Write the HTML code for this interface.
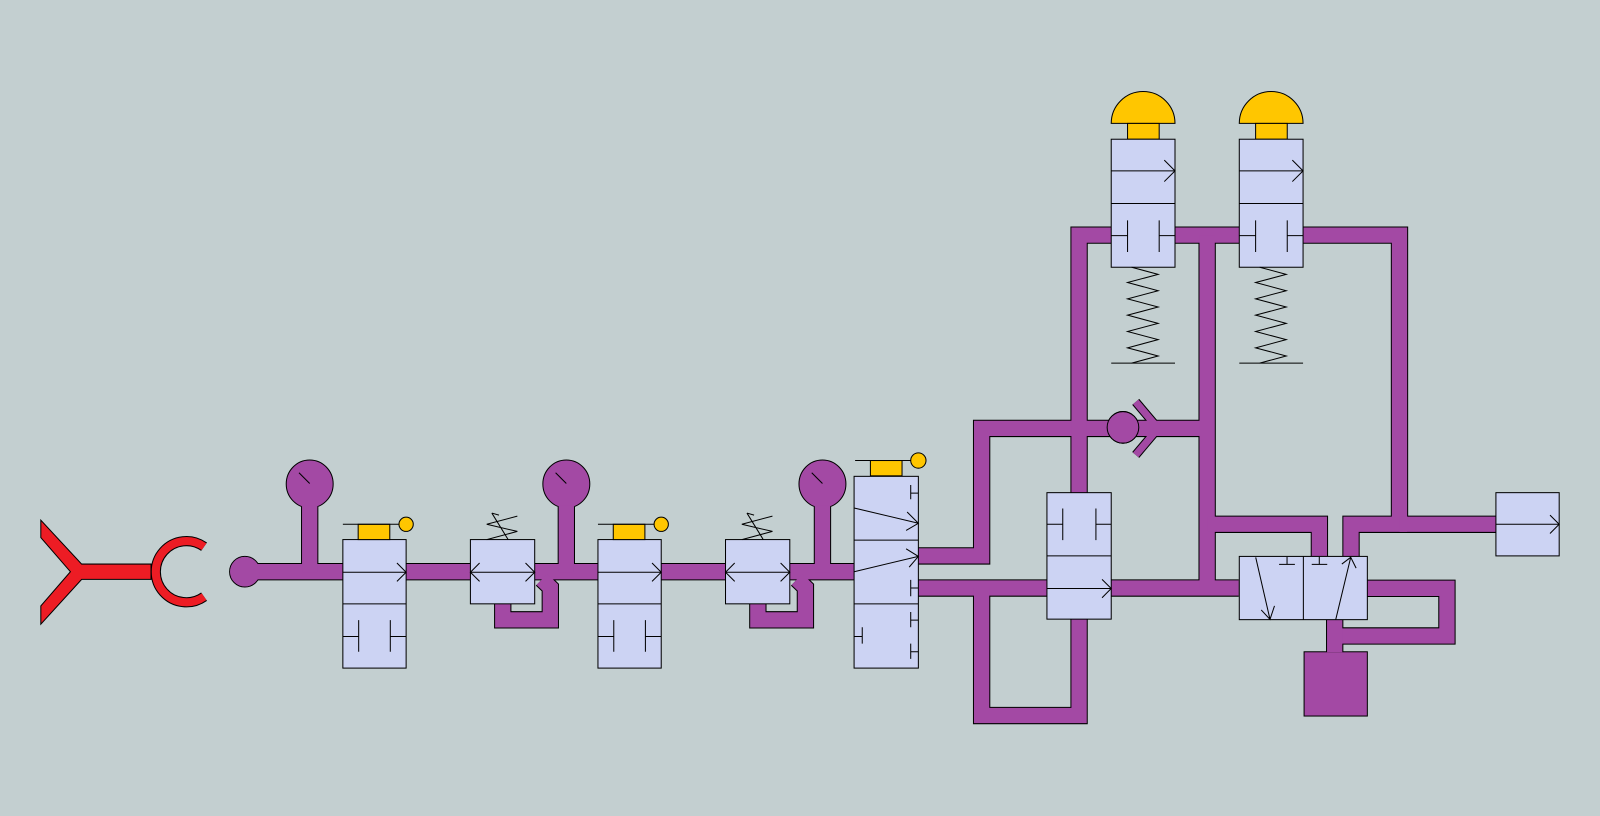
<!DOCTYPE html>
<html><head><meta charset="utf-8"><style>html,body{margin:0;padding:0;background:#c3cfd0}svg{display:block}</style></head>
<body>
<svg width="1600" height="816" viewBox="0 0 1568 800" preserveAspectRatio="none" xmlns="http://www.w3.org/2000/svg">
<rect x="0" y="0" width="1568" height="800" fill="#c3cfd0"/>
<!-- red symbol -->
<polygon points="40,510 40,527 69,560.5 40,594 40,612 80,568 148,568 148,553 80,553" fill="#ed1c24" stroke="#000" stroke-width="1"/>
<path d="M200,536 A30,30 0 1 0 200,585" fill="none" stroke="#000" stroke-width="10"/>
<path d="M200,536 A30,30 0 1 0 200,585" fill="none" stroke="#ed1c24" stroke-width="8"/>

<g id="pipes" fill="none" stroke-linejoin="miter">
<g stroke="#000" stroke-width="17">
<polyline points="240,560.5 837,560.5"/>
<polyline points="303.5,497 303.5,560"/><polyline points="555,497 555,560"/><polyline points="806,497 806,560"/>
<polyline points="492.7,592 492.7,607.7 539.3,607.7 539.3,576 531,568"/>
<polyline points="742.7,592 742.7,607.7 789.3,607.7 789.3,576 781,568"/>
<polyline points="900,545 962,545 962,420 1183,420"/>
<polyline points="900,576.5 1214,576.5"/>
<polyline points="962,576.5 962,701.5 1057.5,701.5 1057.5,607"/>
<polyline points="1057.5,483 1057.5,230.5 1371.5,230.5 1371.5,514 1324,514 1324,546"/>
<polyline points="1371.5,514 1466,514"/>
<polyline points="1183,230.5 1183,576.5"/>
<polyline points="1183,514 1293,514 1293,546"/>
<polyline points="1340,576.8 1418,576.8 1418,623.5 1308,623.5"/>
<polyline points="1308,607 1308,640"/>
<polyline points="1113,394 1135,420 1113,446" stroke-width="9"/>
</g>
<circle cx="240" cy="560.5" r="15" fill="#a349a4" stroke="#000" stroke-width="1"/>
<ellipse cx="303.5" cy="474.5" rx="23" ry="23.5" fill="#a349a4" stroke="#000" stroke-width="1"/>
<ellipse cx="555" cy="474.5" rx="23" ry="23.5" fill="#a349a4" stroke="#000" stroke-width="1"/>
<ellipse cx="806" cy="474.5" rx="23" ry="23.5" fill="#a349a4" stroke="#000" stroke-width="1"/>
<circle cx="1100.5" cy="419" r="15.5" fill="#a349a4" stroke="#000" stroke-width="1"/>
<rect x="1278" y="639" width="62" height="63" fill="#a349a4" stroke="#000" stroke-width="1"/>
<g stroke="#a349a4" stroke-width="15">
<polyline points="240,560.5 837,560.5"/>
<polyline points="303.5,496 303.5,561"/><polyline points="555,496 555,561"/><polyline points="806,496 806,561"/>
<polyline points="492.7,592 492.7,607.7 539.3,607.7 539.3,576 531,568"/>
<polyline points="742.7,592 742.7,607.7 789.3,607.7 789.3,576 781,568"/>
<polyline points="900,545 962,545 962,420 1183,420"/>
<polyline points="900,576.5 1214,576.5"/>
<polyline points="962,576.5 962,701.5 1057.5,701.5 1057.5,607"/>
<polyline points="1057.5,483 1057.5,230.5 1371.5,230.5 1371.5,514 1324,514 1324,546"/>
<polyline points="1371.5,514 1466,514"/>
<polyline points="1183,230.5 1183,576.5"/>
<polyline points="1183,514 1293,514 1293,546"/>
<polyline points="1340,576.8 1418,576.8 1418,623.5 1308,623.5"/>
<polyline points="1308,607 1308,639.5"/>
<polyline points="1113,394 1135,420 1113,446" stroke-width="7"/>
</g>
<circle cx="1100.5" cy="419" r="15" fill="#a349a4"/>
<circle cx="240" cy="560.5" r="14.5" fill="#a349a4"/>
<circle cx="1100.5" cy="419" r="15.5" fill="none" stroke="#000" stroke-width="1"/>
</g>
<!-- gauge needles -->
<g stroke="#000" stroke-width="1">
<line x1="293" y1="463.5" x2="303.5" y2="474"/>
<line x1="544.5" y1="463.5" x2="555" y2="474"/>
<line x1="795.5" y1="463.5" x2="806" y2="474"/>
</g>

<g stroke="#000" stroke-width="1" fill="#ccd3f3">
<!-- valve1 -->
<rect x="336" y="529" width="62" height="126"/>
<line x1="336" y1="592" x2="398" y2="592"/>
<line x1="336" y1="561" x2="398" y2="561"/>
<polyline points="389,552 398,561 389,570" fill="none"/>
<path d="M351.5,608V639M336,624H351.5M382.5,608V639M382.5,624H398" fill="none"/>
<rect x="351" y="514" width="31" height="15" fill="#ffc600"/>
<line x1="336" y1="514" x2="391" y2="514"/>
<circle cx="398" cy="514" r="7" fill="#ffc600"/>
<!-- valve3 -->
<rect x="586" y="529" width="62" height="126"/>
<line x1="586" y1="592" x2="648" y2="592"/>
<line x1="586" y1="561" x2="648" y2="561"/>
<polyline points="639,552 648,561 639,570" fill="none"/>
<path d="M601.5,608V639M586,624H601.5M632.5,608V639M632.5,624H648" fill="none"/>
<rect x="601" y="514" width="31" height="15" fill="#ffc600"/>
<line x1="586" y1="514" x2="641" y2="514"/>
<circle cx="648" cy="514" r="7" fill="#ffc600"/>
<!-- valve2 -->
<rect x="461" y="529" width="63" height="63"/>
<line x1="461" y1="561" x2="524" y2="561"/>
<polyline points="470,552 461,561 470,570" fill="none"/>
<polyline points="515,552 524,561 515,570" fill="none"/>
<path d="M477,529 L507,521 L477,514 L507,506 M482,503 L498,529 M482,503 L489,505" fill="none"/>
<!-- valve4 -->
<rect x="711" y="529" width="63" height="63"/>
<line x1="711" y1="561" x2="774" y2="561"/>
<polyline points="720,552 711,561 720,570" fill="none"/>
<polyline points="765,552 774,561 765,570" fill="none"/>
<path d="M727,529 L757,521 L727,514 L757,506 M732,503 L748,529 M732,503 L739,505" fill="none"/>
<!-- valve5 -->
<rect x="837" y="467" width="63" height="188"/>
<line x1="837" y1="529.5" x2="900" y2="529.5"/>
<line x1="837" y1="592" x2="900" y2="592"/>
<path d="M837,498L900,513M889,502L900,513L888,520M837,560.5L900,545.5M888,538L900,545.5L891,556" fill="none"/>
<path d="M892.5,475.5V489.5M892.5,483.5H900M892.5,568.5V584.5M892.5,576.5H900M892.5,600V615M892.5,608H900M845,615V631M837,624H845M892.5,631V646M892.5,639H900" fill="none"/>
<rect x="853" y="451.5" width="31" height="15" fill="#ffc600"/>
<line x1="838" y1="451.5" x2="893" y2="451.5"/>
<circle cx="900" cy="451.5" r="7.5" fill="#ffc600"/>
<!-- valve6 -->
<rect x="1026" y="483" width="63" height="124"/>
<line x1="1026" y1="545" x2="1089" y2="545"/>
<path d="M1041.5,498.5V529.5M1026,514H1041.5M1074,498.5V529.5M1074,514H1089" fill="none"/>
<line x1="1026" y1="577" x2="1089" y2="577"/>
<polyline points="1080,568 1089,577 1080,586" fill="none"/>
<!-- valve7 -->
<path d="M1089,121 A31,31 0 0 1 1151.5,121 Z" fill="#ffc600"/>
<rect x="1105" y="121" width="31" height="15.5" fill="#ffc600"/>
<rect x="1089" y="136.5" width="62.5" height="125.5"/>
<line x1="1089" y1="199.5" x2="1151.5" y2="199.5"/>
<line x1="1089" y1="167.5" x2="1151.5" y2="167.5"/>
<polyline points="1141,157 1151.5,167.5 1141,178" fill="none"/>
<path d="M1105,216V247M1089,231H1105M1136,216V247M1136,231H1151.5" fill="none"/>
<polyline fill="none" points="1109,262 1135,269 1105,277 1135,285 1105,293 1135,301 1105,309 1135,317 1105,325 1135,333 1105,341 1135,349 1109,356"/>
<line x1="1089" y1="356" x2="1151.5" y2="356"/>
<!-- valve9 -->
<path d="M1214.5,121 A31,31 0 0 1 1277,121 Z" fill="#ffc600"/>
<rect x="1230.5" y="121" width="31" height="15.5" fill="#ffc600"/>
<rect x="1214.5" y="136.5" width="62.5" height="125.5"/>
<line x1="1214.5" y1="199.5" x2="1277" y2="199.5"/>
<line x1="1214.5" y1="167.5" x2="1277" y2="167.5"/>
<polyline points="1266.5,157 1277,167.5 1266.5,178" fill="none"/>
<path d="M1230.5,216V247M1214.5,231H1230.5M1261.5,216V247M1261.5,231H1277" fill="none"/>
<polyline fill="none" points="1234.5,262 1260.5,269 1230.5,277 1260.5,285 1230.5,293 1260.5,301 1230.5,309 1260.5,317 1230.5,325 1260.5,333 1230.5,341 1260.5,349 1234.5,356"/>
<line x1="1214.5" y1="356" x2="1277" y2="356"/>
<!-- valve8 -->
<rect x="1214.5" y="545.5" width="125.5" height="62"/>
<line x1="1277.3" y1="545.5" x2="1277.3" y2="607.5"/>
<path d="M1230.6,546.4L1244.6,607.2M1236,598L1244.6,607.2L1249,594" fill="none"/>
<path d="M1261.3,546V553.3M1253.5,553.3H1269M1292.9,546V553.3M1285.5,553.3H1300.7" fill="none"/>
<path d="M1309,607.5L1323.7,546.4M1315,553L1323.7,546.4L1329,557" fill="none"/>
<!-- right box -->
<rect x="1466" y="483" width="62" height="62"/>
<line x1="1466" y1="514" x2="1528" y2="514"/>
<polyline points="1519,505 1528,514 1519,523" fill="none"/>
</g>
</svg>
</body></html>
